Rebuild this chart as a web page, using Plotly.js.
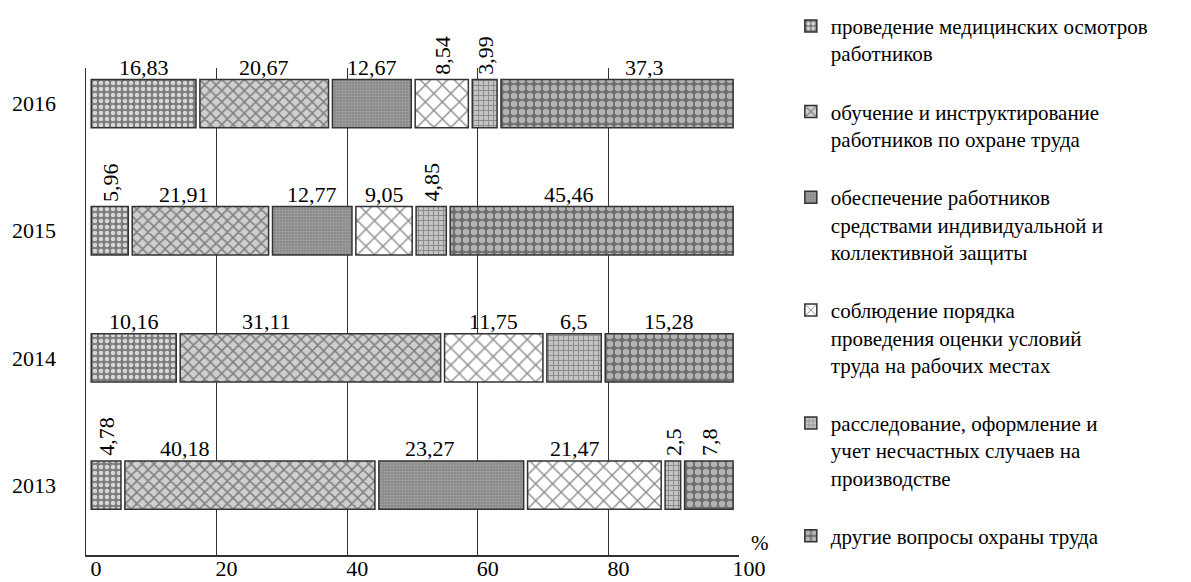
<!DOCTYPE html>
<html>
<head>
<meta charset="utf-8">
<script src="https://cdn.plot.ly/plotly-3.0.1.min.js"></script>
<style>html,body{margin:0;padding:0;background:#fff;}#chart{width:1191px;height:582px;}</style>
</head>
<body>
<div id="chart"></div>
<script>
// ---------- data ----------
const years = ['2013', '2014', '2015', '2016'];
const seriesNames = [
  'проведение медицинских осмотров<br>работников',
  'обучение и инструктирование<br>работников по охране труда',
  'обеспечение работников<br>средствами индивидуальной и<br>коллективной защиты',
  'соблюдение порядка<br>проведения оценки условий<br>труда на рабочих местах',
  'расследование, оформление и<br>учет несчастных случаев на<br>производстве',
  'другие вопросы охраны труда'
];
const medical    = [4.78, 10.16, 5.96, 16.83];
const training   = [40.18, 31.11, 21.91, 20.67];
const protection = [23.27, null, 12.77, 12.67];
const assessment = [21.47, 11.75, 9.05, 8.54];
const accidents  = [2.5, 6.5, 4.85, 3.99];
const other      = [7.8, 15.28, 45.46, 37.3];
const xTickVals  = [0, 20, 40, 60, 80, 100];

// ---------- styles ----------
const patterns = [
  {shape: '.', bgcolor: '#7c7c7c', fgcolor: '#d6d6d6', size: 6, solidity: 0.45},
  {shape: 'x', bgcolor: '#cfcfcf', fgcolor: '#808080', size: 8, solidity: 0.35},
  {shape: '.', bgcolor: '#8a8a8a', fgcolor: '#a4a4a4', size: 3, solidity: 0.4},
  {shape: 'x', bgcolor: '#ffffff', fgcolor: '#8c8c8c', size: 12, solidity: 0.22},
  {shape: '+', bgcolor: '#c4c4c4', fgcolor: '#8a8a8a', size: 5, solidity: 0.35},
  {shape: '.', bgcolor: '#6e6e6e', fgcolor: '#b2b2b2', size: 8, solidity: 0.5}
];
const rotatedLabels = ['2016:3', '2016:4', '2015:0', '2015:4', '2013:0', '2013:4', '2013:5'];
const labelNudge = {'2016:5': 27, '2015:1': -16, '2015:5': -23, '2014:1': -44, '2013:1': -65, '2013:2': -21, '2013:3': -19};
const rowStart = 0.8, rowEnd = 99.1, segGap = 0.6, barWidth = 0.38;
const FONT = 'Liberation Serif, Times New Roman, serif';

// ---------- geometry from data ----------
const series = [medical, training, protection, assessment, accidents, other];
const widths = series.map(() => []);
const bases = series.map(() => []);
years.forEach((yr, r) => {
  const vals = series.map(s => s[r]);
  const present = vals.filter(v => v != null && v > 0);
  const total = present.reduce((a, b) => a + b, 0);
  const avail = rowEnd - rowStart - (present.length - 1) * segGap;
  let cur = rowStart;
  vals.forEach((v, i) => {
    if (v == null || v <= 0) { widths[i].push(null); bases[i].push(null); return; }
    const w = v / total * avail;
    widths[i].push(w); bases[i].push(cur);
    cur += w + segGap;
  });
});

const traces = series.map((s, i) => ({
  type: 'bar', orientation: 'h', name: seriesNames[i],
  y: years, x: widths[i], base: bases[i], width: barWidth,
  legendgroup: 'g' + i,
  marker: {color: patterns[i].bgcolor, pattern: patterns[i], line: {color: '#333', width: 1.5}},
  hoverinfo: 'skip'
}));

const annotations = [];
series.forEach((s, i) => {
  years.forEach((yr, r) => {
    const v = s[r];
    if (v == null) return;
    const key = yr + ':' + i;
    const rot = rotatedLabels.includes(key);
    annotations.push({
      x: bases[i][r] + widths[i][r] / 2, y: r, xref: 'x', yref: 'y',
      text: String(v).replace('.', ','), showarrow: false,
      textangle: rot ? -90 : 0,
      xanchor: 'center', yanchor: 'bottom',
      yshift: rot ? 27 : 22, xshift: labelNudge[key] || 0,
      font: {family: FONT, size: 22, color: '#000'}
    });
  });
});
annotations.push({
  xref: 'paper', yref: 'paper', x: 1.032, y: 0.025, text: '%', showarrow: false,
  xanchor: 'center', yanchor: 'middle', font: {family: FONT, size: 21, color: '#000'}
});

const layout = {
  width: 1191, height: 582,
  margin: {l: 86, r: 452, t: 68, b: 27, pad: 0},
  paper_bgcolor: '#fff', plot_bgcolor: '#fff',
  barmode: 'overlay',
  font: {family: FONT, size: 22, color: '#000'},
  xaxis: {
    range: [0, 100], tickvals: xTickVals, ticktext: xTickVals.map(String),
    showgrid: true, gridcolor: '#333', gridwidth: 1.3,
    zeroline: false, showline: true, linecolor: '#333', linewidth: 1.5,
    ticks: '', ticklabelshift: 10, ticklabelstandoff: -7,
    tickfont: {family: FONT, size: 22, color: '#000'}, fixedrange: true
  },
  yaxis: {
    type: 'category', categoryorder: 'array', categoryarray: years,
    range: [-0.55, 3.28], showgrid: false, zeroline: false,
    showline: true, linecolor: '#333', linewidth: 1.5,
    ticks: '', ticklabelstandoff: 24,
    tickfont: {family: FONT, size: 22, color: '#000'}, fixedrange: true
  },
  legend: {
    xref: 'container', yref: 'container', x: 0.664, y: 0.99,
    xanchor: 'left', yanchor: 'top', traceorder: 'grouped', tracegroupgap: 28,
    valign: 'top', maxheight: 580, font: {family: FONT, size: 21, color: '#000'},
    bgcolor: 'rgba(0,0,0,0)'
  },
  showlegend: true,
  annotations: annotations
};

Plotly.newPlot('chart', traces, layout, {displayModeBar: false, staticPlot: true});
</script>
</body>
</html>
